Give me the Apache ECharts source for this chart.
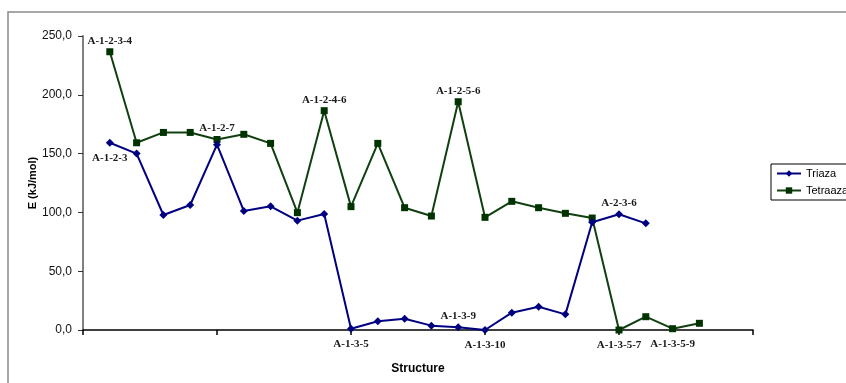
<!DOCTYPE html>
<html>
<head>
<meta charset="utf-8">
<script src="https://cdn.jsdelivr.net/npm/echarts@6/dist/echarts.min.js"></script>
<style>html,body{margin:0;padding:0;background:#fff;}#c{width:846px;height:383px;}</style>
</head>
<body>
<div id="c"></div>
<script>
// 26 category positions on the x axis (first one empty, last two empty)
const categories = ['0','1','2','3','4','5','6','7','8','9','10','11','12','13','14','15','16','17','18','19','20','21','22','23','24','25'];
const triaza = [159.2, 150.0, 97.8, 106.3, 157.6, 101.2, 105.2, 93.0, 98.6, 1.1, 7.4, 9.6, 3.7, 2.3, 0.0, 14.7, 19.8, 13.3, 91.6, 98.4, 90.7];
const tetraaza = [236.6, 159.2, 168.0, 168.0, 162.0, 166.4, 158.7, 99.8, 186.5, 104.9, 158.7, 104.0, 96.9, 194.1, 95.8, 109.4, 104.0, 99.2, 95.2, 0.0, 11.3, 1.1, 5.7];
// point annotations: [index, text, position]
const triazaNotes = [[0, 'A-1-2-3', 'bottom'], [9, 'A-1-3-5', 'bottom'], [13, 'A-1-3-9', 'top'], [14, 'A-1-3-10', 'bottom'], [19, 'A-2-3-6', 'top']];
const tetraazaNotes = [[0, 'A-1-2-3-4', 'top'], [4, 'A-1-2-7', 'top'], [8, 'A-1-2-4-6', 'top'], [13, 'A-1-2-5-6', 'top'], [19, 'A-1-3-5-7', 'bottom'], [21, 'A-1-3-5-9', 'bottom']];
const yTicks = [0, 50, 100, 150, 200, 250];

function build(values, notes) {
  const out = values.map((v, i) => {
    const n = notes.find(x => x[0] === i);
    if (!n) return v;
    return {
      value: v,
      label: {
        show: true, formatter: n[1], position: n[2], distance: n[2] === 'top' ? 2 : 6,
        fontFamily: 'Liberation Serif', fontWeight: 'bold', fontSize: 11, color: '#1a1a1a'
      }
    };
  });
  return ['-'].concat(out); // first category slot is empty
}

const chart = echarts.init(document.getElementById('c'), null, {renderer: 'canvas'});
chart.setOption({
  animation: false,
  backgroundColor: '#fff',
  grid: {left: 83, right: 93, top: 36, bottom: 53, containLabel: false},
  graphic: [{
    type: 'rect', shape: {x: 8, y: 12, width: 900, height: 420},
    style: {fill: 'none', stroke: '#8a8a8a', lineWidth: 1.5}, silent: true, z: -1
  }],
  legend: {
    orient: 'vertical', left: 771, top: 164,
    padding: [4, 40, 4, 5], itemGap: 6, itemWidth: 24, itemHeight: 8,
    borderColor: '#000', borderWidth: 1,
    textStyle: {fontFamily: 'Liberation Sans', fontSize: 11, color: '#000'},
    data: ['Triaza', 'Tetraaza']
  },
  xAxis: {
    type: 'category', data: categories, boundaryGap: false,
    name: 'Structure', nameLocation: 'middle', nameGap: 33, nameMoveOverlap: false,
    nameTextStyle: {fontFamily: 'Liberation Sans', fontWeight: 'bold', fontSize: 12, color: '#000'},
    axisLine: {lineStyle: {color: '#000', width: 1.5}},
    axisTick: {show: true, interval: 4, length: 5, lineStyle: {color: '#000', width: 1.5}},
    axisLabel: {show: false},
    splitLine: {show: false}
  },
  yAxis: {
    type: 'value', min: 0, max: 250, interval: 50,
    name: 'E (kJ/mol)', nameLocation: 'middle', nameGap: 45, nameRotate: 90, nameMoveOverlap: false,
    nameTextStyle: {fontFamily: 'Liberation Sans', fontWeight: 'bold', fontSize: 11, color: '#000'},
    axisLine: {show: true, lineStyle: {color: '#808080', width: 2}},
    axisTick: {show: true, length: 5, lineStyle: {color: '#333', width: 1}},
    axisLabel: {
      margin: 11, fontFamily: 'Liberation Sans', fontSize: 12, color: '#111',
      formatter: v => yTicks.includes(v) ? v.toFixed(1).replace('.', ',') : ''
    },
    splitLine: {show: false}
  },
  series: [
    {
      name: 'Triaza', type: 'line', data: build(triaza, triazaNotes),
      symbol: 'diamond', symbolSize: 8, showAllSymbol: true,
      itemStyle: {color: '#000080'}, lineStyle: {color: '#000080', width: 2}, z: 3
    },
    {
      name: 'Tetraaza', type: 'line', data: build(tetraaza, tetraazaNotes),
      symbol: 'rect', symbolSize: 7, showAllSymbol: true,
      itemStyle: {color: '#003300'}, lineStyle: {color: '#104010', width: 2}, z: 2
    }
  ]
});
</script>
</body>
</html>
